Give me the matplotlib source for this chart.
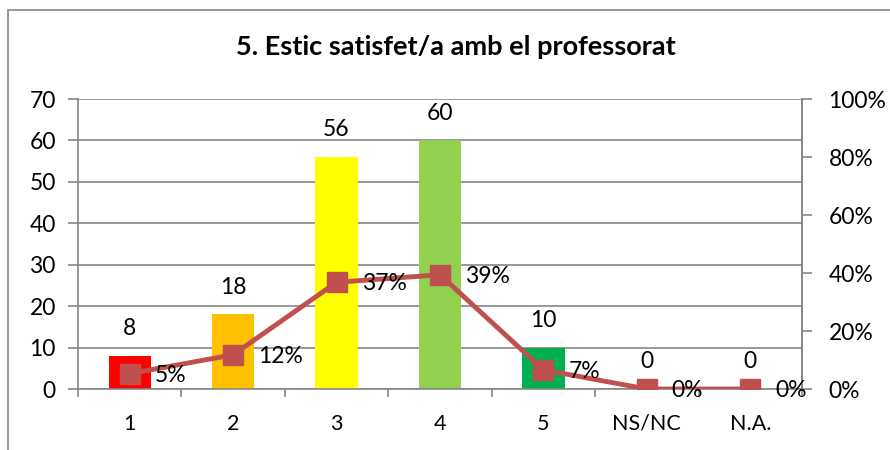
import matplotlib.pyplot as plt
from matplotlib.patches import Rectangle

plt.rcParams['font.family'] = ['Lato', 'DejaVu Sans']

# Data
categories = ['1', '2', '3', '4', '5', 'NS/NC', 'N.A.']
counts = [8, 18, 56, 60, 10, 0, 0]
shares = [5.3, 11.8, 36.8, 39.4, 6.6, 0, 0]  # percent of answers
bar_colors = ['#FF0000', '#FFC000', '#FFFF00', '#92D050', '#00B050', '#92D050', '#92D050']
title = '5. Estic satisfet/a amb el professorat'

W, H = 890, 450
fig = plt.figure(figsize=(W / 100, H / 100), dpi=100)
fig.patch.set_facecolor('white')

# outer chart border (clipped at right/bottom like the screenshot)
fig.patches.append(Rectangle((8 / W, -0.1), 1.2, 1 - 10 / H + 0.1, transform=fig.transFigure,
                             fill=False, edgecolor='#868686', linewidth=1.2))

left, right, top, bottom = 78, 802, 99, 389
ax = fig.add_axes([left / W, 1 - bottom / H, (right - left) / W, (bottom - top) / H])
x = list(range(len(categories)))
grey = '#868686'
fs = 16.5

ax.bar(x, counts, width=0.41, color=bar_colors, zorder=2)
ax.set_xlim(-0.5, len(categories) - 0.5)
ax.set_ylim(0, 70)
ax.set_yticks(range(0, 71, 10))
ax.yaxis.grid(True, color=grey, linewidth=1.2, zorder=0)
ax.set_axisbelow(True)

for xi, c in zip(x, counts):
    ax.annotate(str(c), (xi, c), xytext=(0, 12), textcoords='offset points',
                ha='center', va='bottom', fontsize=fs)

ax.set_xticks(x)
ax.set_xticklabels(categories, fontsize=15.5)
ax.tick_params(axis='x', length=0, pad=18)
ax.set_xticks([i - 0.5 for i in range(len(categories) + 1)], minor=True)
ax.tick_params(axis='x', which='minor', length=6, width=1.2, color=grey, direction='out')
ax.tick_params(axis='y', length=7, width=1.2, color=grey, labelsize=fs, pad=9)
ax.spines['top'].set_visible(False)
for s in ['left', 'bottom', 'right']:
    ax.spines[s].set_color(grey)
    ax.spines[s].set_linewidth(1.2)

ax2 = ax.twinx()
ax2.plot(x, [s / 100 for s in shares], color='#C0504D', linewidth=3.5,
         marker='s', markersize=15, markerfacecolor='#C0504D', markeredgecolor='#C0504D', zorder=3)
ax2.set_ylim(0, 1)
ax2.set_yticks([0, 0.2, 0.4, 0.6, 0.8, 1.0])
ax2.set_yticklabels(['0%', '20%', '40%', '60%', '80%', '100%'])
ax2.tick_params(axis='y', length=7, width=1.2, color=grey, labelsize=fs, pad=12)
for s in ['top', 'left', 'bottom']:
    ax2.spines[s].set_visible(False)
ax2.spines['right'].set_color(grey)
ax2.spines['right'].set_linewidth(1.2)

for xi, s in zip(x, shares):
    ax2.annotate(f'{s:.0f}%', (xi, s / 100), xytext=(18, -1), textcoords='offset points',
                 ha='left', va='center', fontsize=fs)

fig.text(0.5 * (233 + 678) / W, 1 - 47 / H, title, ha='center', va='center',
         fontsize=19.5, fontweight='bold')

fig.savefig('out.png', dpi=100)
